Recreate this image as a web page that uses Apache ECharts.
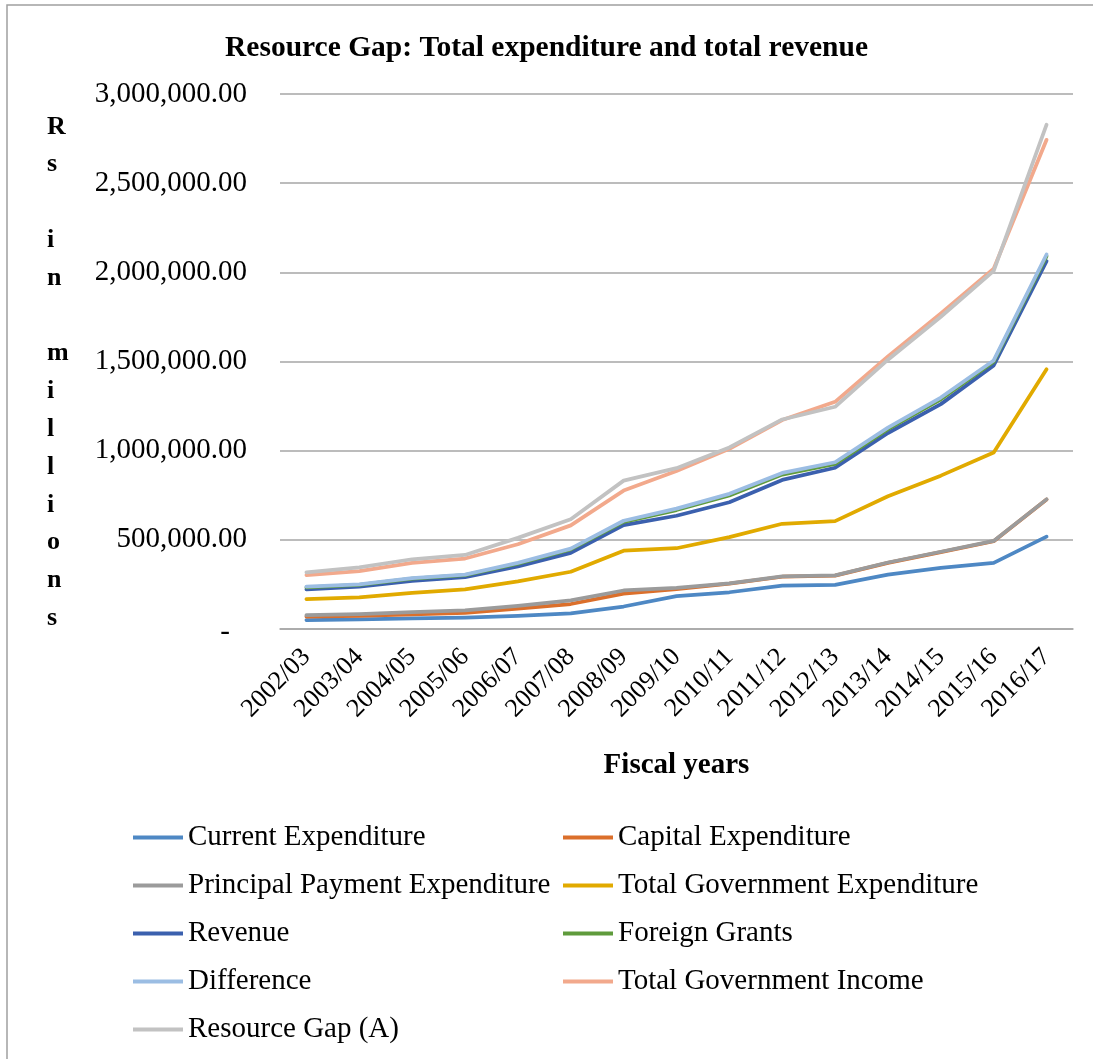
<!DOCTYPE html>
<html>
<head>
<meta charset="utf-8">
<title>Resource Gap</title>
<script src="https://cdn.jsdelivr.net/npm/echarts@6/dist/echarts.min.js"></script>
<style>
  html, body { margin: 0; padding: 0; background: #fff; }
  #chart { width: 1093px; height: 1059px; }
</style>
</head>
<body>
<div id="chart"></div>
<script>
// Fiscal years and series values (Rs in millions)
const fiscalYears = ['2002/03', '2003/04', '2004/05', '2005/06', '2006/07', '2007/08', '2008/09', '2009/10',
  '2010/11', '2011/12', '2012/13', '2013/14', '2014/15', '2015/16', '2016/17'];

const currentExpenditure = [50000, 54000, 60000, 64000, 74000, 88000, 126000, 184000, 206000, 243000, 247000, 305000, 343000, 371000, 518000];
const capitalExpenditure = [70000, 74000, 82000, 90000, 114000, 140000, 198000, 224000, 255000, 293000, 299000, 371000, 431000, 492000, 726000];
const principalPaymentExpenditure = [78000, 84000, 94000, 104000, 130000, 160000, 216000, 230000, 256000, 295000, 301000, 373000, 433000, 494000, 727000];
const totalGovernmentExpenditure = [167000, 178000, 202000, 222000, 267000, 321000, 439000, 453000, 515000, 590000, 605000, 744000, 860000, 990000, 1456000];
const revenue = [222000, 238000, 270000, 291000, 351000, 427000, 583000, 635000, 711000, 836000, 904000, 1099000, 1261000, 1478000, 2063000];
const foreignGrants = [233000, 247000, 282000, 302000, 366000, 446000, 601000, 667000, 749000, 866000, 926000, 1121000, 1288000, 1499000, 2090000];
const difference = [237000, 250000, 285000, 305000, 371000, 451000, 607000, 675000, 758000, 875000, 935000, 1129000, 1298000, 1506000, 2100000];
const totalGovernmentIncome = [302000, 325000, 371000, 395000, 475000, 581000, 776000, 886000, 1010000, 1172000, 1274000, 1528000, 1770000, 2020000, 2743000];
const resourceGap = [318000, 345000, 391000, 415000, 511000, 615000, 832000, 902000, 1018000, 1175000, 1246000, 1510000, 1751000, 2008000, 2828000];

// Value axis ticks
const axisMin = 0;
const axisMax = 3000000;
const axisStep = 500000;

const seriesDefs = [
  { name: 'Current Expenditure', data: currentExpenditure, color: '#4E88C4' },
  { name: 'Capital Expenditure', data: capitalExpenditure, color: '#DB6F2B' },
  { name: 'Principal Payment Expenditure', data: principalPaymentExpenditure, color: '#9B9B9B' },
  { name: 'Total Government Expenditure', data: totalGovernmentExpenditure, color: '#E1AA00' },
  { name: 'Revenue', data: revenue, color: '#3B60AE' },
  { name: 'Foreign Grants', data: foreignGrants, color: '#5F9B3C' },
  { name: 'Difference', data: difference, color: '#9BBDE3' },
  { name: 'Total Government Income', data: totalGovernmentIncome, color: '#F2A98C' },
  { name: 'Resource Gap (A)', data: resourceGap, color: '#C2C2C2' }
];

const serif = '"Liberation Serif", "Times New Roman", serif';

function formatValue(v) {
  if (v === 0) return '{d|-}';
  return v.toLocaleString('en-US', { minimumFractionDigits: 2, maximumFractionDigits: 2 });
}

const legendText = { fontFamily: serif, fontSize: 29, color: '#000', lineHeight: 29 };
const legendCommon = {
  orient: 'vertical',
  top: 818,
  itemWidth: 50,
  itemHeight: 4,
  itemGap: 19,
  itemStyle: { borderWidth: 0 },
  icon: 'rect',
  textStyle: legendText,
  selectedMode: false
};

const chart = echarts.init(document.getElementById('chart'), null, { renderer: 'canvas' });

chart.setOption({
  animation: false,
  backgroundColor: '#fff',
  title: {
    text: 'Resource Gap: Total expenditure and total revenue',
    left: 'center',
    top: 28,
    textStyle: { fontFamily: serif, fontWeight: 'bold', fontSize: 29.5, color: '#000' }
  },
  grid: { left: 280, right: 20, top: 94, bottom: 430 },
  legend: [
    Object.assign({}, legendCommon, {
      left: 128,
      data: ['Current Expenditure', 'Principal Payment Expenditure', 'Revenue', 'Difference', 'Resource Gap (A)']
    }),
    Object.assign({}, legendCommon, {
      left: 558,
      data: ['Capital Expenditure', 'Total Government Expenditure', 'Foreign Grants', 'Total Government Income']
    })
  ],
  xAxis: {
    type: 'category',
    data: fiscalYears,
    boundaryGap: true,
    name: 'Fiscal years',
    nameLocation: 'middle',
    nameGap: 122,
    nameTextStyle: { fontFamily: serif, fontWeight: 'bold', fontSize: 29, color: '#000' },
    axisLine: { lineStyle: { color: '#A6A6A6', width: 1.5 } },
    axisTick: { show: false },
    axisLabel: { rotate: 45, margin: 24, fontFamily: serif, fontSize: 26, color: '#000', interval: 0 }
  },
  yAxis: {
    type: 'value',
    min: axisMin,
    max: axisMax,
    interval: axisStep,
    axisLine: { show: false },
    axisTick: { show: false },
    splitLine: { lineStyle: { color: '#A6A6A6', width: 1.5 } },
    axisLabel: {
      margin: 33,
      fontFamily: serif,
      fontSize: 29,
      color: '#000',
      formatter: formatValue,
      rich: { d: { fontFamily: serif, fontSize: 29, color: '#000', padding: [6, 17, 0, 0] } }
    }
  },
  graphic: [
    {
      type: 'rect',
      shape: { x: 7, y: 5, width: 1200, height: 1200 },
      style: { fill: 'none', stroke: '#A0A0A0', lineWidth: 1.5 },
      silent: true
    },
    {
      type: 'text',
      left: 60 - 13,
      top: 108,
      style: {
        text: 'R\ns\n\ni\nn\n\nm\ni\nl\nl\ni\no\nn\ns',
        fontFamily: serif,
        fontWeight: 'bold',
        fontSize: 26,
        lineHeight: 37.8,
        width: 26,
        align: 'center',
        fill: '#000'
      }
    }
  ],
  series: seriesDefs.map(s => ({
    name: s.name,
    type: 'line',
    data: s.data,
    showSymbol: false,
    symbol: 'none',
    smooth: false,
    lineStyle: { color: s.color, width: 3.75, cap: 'round', join: 'round' },
    itemStyle: { color: s.color }
  }))
});
</script>
</body>
</html>
